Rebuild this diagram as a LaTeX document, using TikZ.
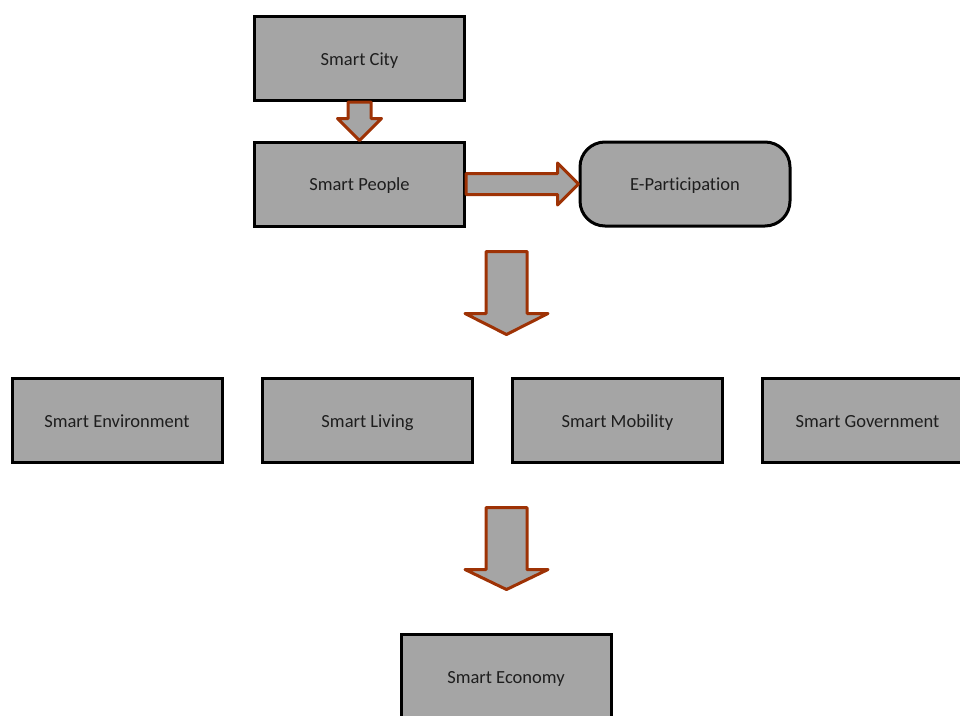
\documentclass[tikz,border=0pt]{standalone}
\usepackage{fontspec}
\setmainfont{Carlito}[Ligatures={NoCommon}]
\usetikzlibrary{calc}
\definecolor{boxgray}{RGB}{165,165,165}
\definecolor{arrowrim}{RGB}{158,50,5}
\definecolor{txt}{RGB}{30,30,30}

% downward block arrow: shaft from #1 down to tip #2
% #3 shaft half width, #4 head half width, #5 head length
\newcommand{\blockdown}[5]{%
  \draw[blockarrow] let \p1=(#1), \p2=(#2) in
    (\x2-#3,\y1) -- (\x2-#3,\y2+#5) -- (\x2-#4,\y2+#5) -- (\x2,\y2)
    -- (\x2+#4,\y2+#5) -- (\x2+#3,\y2+#5) -- (\x2+#3,\y1) -- cycle;}
% rightward block arrow from #1 to tip #2
\newcommand{\blockright}[5]{%
  \draw[blockarrow] let \p1=(#1), \p2=(#2) in
    (\x1,\y2+#3) -- (\x2-#5,\y2+#3) -- (\x2-#5,\y2+#4) -- (\x2,\y2)
    -- (\x2-#5,\y2-#4) -- (\x2-#5,\y2-#3) -- (\x1,\y2-#3) -- cycle;}

\tikzset{
  box/.style={draw=black, fill=boxgray, line width=3pt,
    minimum width=210pt, minimum height=84pt, inner sep=0pt,
    text height=15pt, text depth=1.3pt,
    text=txt, font=\fontsize{18.5}{22}\selectfont},
  roundbox/.style={box, rounded corners=25pt},
  blockarrow/.style={draw=arrowrim, fill=boxgray, line width=3pt, line join=round}
}

\begin{document}
\begin{tikzpicture}[x=1pt, y=-1pt]
  \useasboundingbox (0,0) rectangle (960,715);

  \node[box] (city) at (359.5,58.5) {Smart City};
  \node[box] (people) at (359.5,184) {Smart People};
  \node[roundbox] (epart) at (685,184) {E-Participation};

  \node[box] (env) at (117,420.5) {Smart Environment};
  \node[box] (living) at (367.5,420.5) {Smart Living};
  \node[box] (mobility) at (617.5,420.5) {Smart Mobility};
  \node[box] (gov) at (867.5,420.5) {Smart Government};

  \node[box] (economy) at (506,676.5) {Smart Economy};

  % anchor points of the free-standing arrows
  \coordinate (downAtop) at (506.5,251.5);
  \coordinate (downAtip) at (506.5,334.5);
  \coordinate (downBtop) at (506.5,507.5);
  \coordinate (downBtip) at (506.5,589.5);

  \blockdown{city.south}{people.north}{11.5pt}{22pt}{22pt}
  \blockright{people.east}{epart.west}{10.5pt}{21pt}{21pt}
  \blockdown{downAtop}{downAtip}{20.5pt}{41.5pt}{21pt}
  \blockdown{downBtop}{downBtip}{20.5pt}{41.5pt}{20pt}
\end{tikzpicture}
\end{document}
